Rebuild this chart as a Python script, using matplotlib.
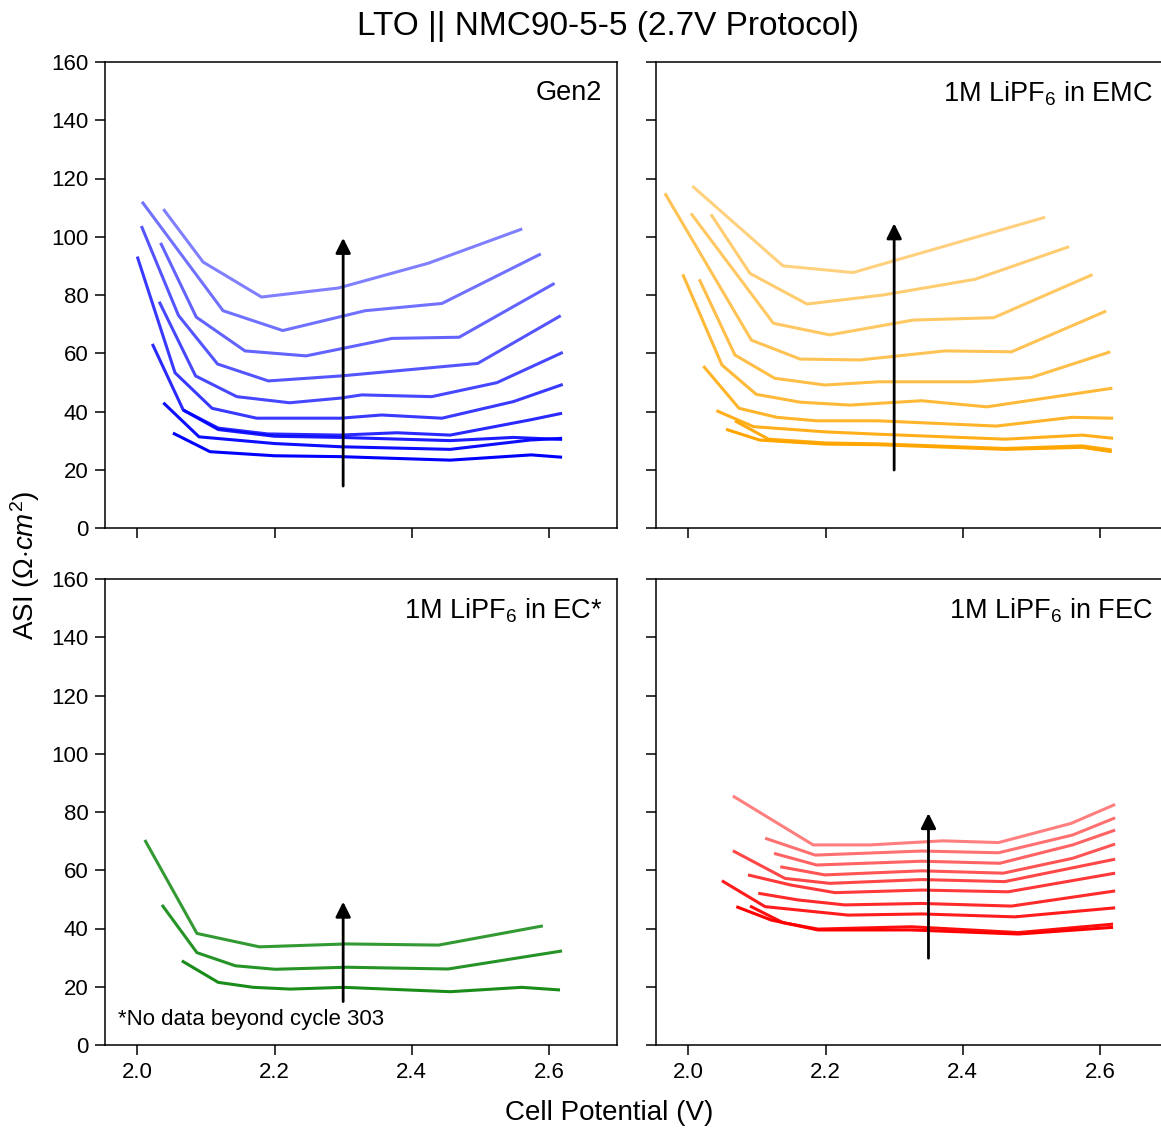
import numpy as np
import matplotlib
matplotlib.use("Agg")
import matplotlib.pyplot as plt

plt.rcParams['font.family'] = ['Liberation Sans', 'DejaVu Sans']
plt.rcParams['mathtext.fontset'] = 'custom'
plt.rcParams['mathtext.rm'] = 'Liberation Sans'
plt.rcParams['mathtext.it'] = 'Liberation Sans:italic'

# --- Data: cell potential (V) and ASI (ohm cm^2), first cycle -> last cycle ---
gen2_v = [
    [2.052, 2.106, 2.200, 2.296, 2.456, 2.574, 2.619],
    [2.038, 2.090, 2.200, 2.296, 2.456, 2.572, 2.619],
    [2.067, 2.118, 2.200, 2.296, 2.456, 2.548, 2.619],
    [2.022, 2.067, 2.118, 2.190, 2.296, 2.378, 2.456, 2.572, 2.619],
    [2.000, 2.055, 2.109, 2.174, 2.296, 2.356, 2.444, 2.548, 2.620],
    [2.032, 2.085, 2.145, 2.222, 2.296, 2.327, 2.429, 2.524, 2.620],
    [2.006, 2.060, 2.117, 2.191, 2.296, 2.496, 2.617],
    [2.034, 2.086, 2.157, 2.246, 2.371, 2.469, 2.608],
    [2.007, 2.125, 2.212, 2.332, 2.444, 2.588],
    [2.038, 2.096, 2.181, 2.293, 2.424, 2.561],
]
gen2_asi = [
    [32.6, 26.2, 24.8, 24.5, 23.3, 25.1, 24.3],
    [43.0, 31.3, 29.0, 27.9, 27.0, 30.2, 30.8],
    [40.5, 33.8, 31.5, 31.1, 30.0, 31.1, 30.4],
    [63.2, 40.5, 34.3, 32.3, 31.9, 32.7, 31.9, 37.1, 39.4],
    [93.2, 53.3, 41.1, 37.7, 37.7, 38.8, 37.7, 43.4, 49.3],
    [77.7, 52.2, 45.1, 43.0, 44.6, 45.7, 45.1, 49.9, 60.3],
    [103.7, 73.0, 56.3, 50.5, 52.2, 56.5, 72.9],
    [97.9, 72.4, 60.8, 59.1, 65.1, 65.5, 84.0],
    [112.0, 74.6, 67.8, 74.6, 77.1, 94.1],
    [109.5, 91.3, 79.3, 82.4, 90.9, 102.7],
]

emc_v = [
    [2.055, 2.104, 2.200, 2.277, 2.462, 2.574, 2.617],
    [2.068, 2.117, 2.200, 2.277, 2.462, 2.574, 2.617],
    [2.041, 2.095, 2.200, 2.277, 2.462, 2.574, 2.619],
    [2.022, 2.074, 2.129, 2.187, 2.277, 2.449, 2.559, 2.619],
    [1.992, 2.049, 2.099, 2.163, 2.236, 2.340, 2.435, 2.618],
    [2.016, 2.068, 2.126, 2.199, 2.277, 2.413, 2.500, 2.615],
    [1.966, 2.092, 2.163, 2.250, 2.374, 2.471, 2.609],
    [2.004, 2.124, 2.206, 2.328, 2.445, 2.589],
    [2.033, 2.090, 2.173, 2.284, 2.418, 2.555],
    [2.006, 2.138, 2.240, 2.520],
]
emc_asi = [
    [33.9, 30.2, 28.8, 28.6, 27.0, 27.7, 26.2],
    [36.8, 30.5, 29.2, 28.9, 27.3, 28.2, 26.8],
    [40.3, 34.8, 33.0, 32.2, 30.5, 31.9, 30.8],
    [55.6, 41.1, 38.0, 36.8, 36.8, 35.0, 38.0, 37.7],
    [87.1, 56.0, 45.9, 43.2, 42.2, 43.7, 41.6, 48.0],
    [85.4, 59.4, 51.4, 49.1, 50.2, 50.2, 51.7, 60.5],
    [114.9, 64.5, 58.0, 57.7, 60.8, 60.5, 74.5],
    [108.0, 70.3, 66.3, 71.4, 72.2, 87.0],
    [107.7, 87.4, 76.9, 80.0, 85.4, 96.6],
    [117.4, 90.0, 87.7, 106.7],
]

ec_v = [
    [2.065, 2.118, 2.169, 2.223, 2.301, 2.456, 2.560, 2.616],
    [2.036, 2.087, 2.143, 2.201, 2.305, 2.453, 2.619],
    [2.011, 2.087, 2.178, 2.305, 2.439, 2.591],
]
ec_asi = [
    [28.9, 21.5, 19.8, 19.2, 19.8, 18.3, 19.8, 18.9],
    [48.1, 31.7, 27.2, 26.0, 26.7, 26.1, 32.3],
    [70.4, 38.3, 33.7, 34.7, 34.3, 40.9],
]

fec_v = [
    [2.070, 2.121, 2.189, 2.325, 2.481, 2.619],
    [2.090, 2.138, 2.189, 2.325, 2.481, 2.619],
    [2.049, 2.112, 2.233, 2.340, 2.476, 2.622],
    [2.102, 2.160, 2.228, 2.340, 2.471, 2.622],
    [2.087, 2.150, 2.214, 2.340, 2.466, 2.622],
    [2.065, 2.141, 2.206, 2.340, 2.461, 2.622],
    [2.134, 2.199, 2.340, 2.459, 2.560, 2.622],
    [2.125, 2.187, 2.340, 2.454, 2.560, 2.622],
    [2.112, 2.185, 2.340, 2.452, 2.560, 2.622],
    [2.065, 2.182, 2.265, 2.371, 2.452, 2.558, 2.622],
]
fec_asi = [
    [47.5, 42.9, 39.5, 39.5, 38.1, 40.4],
    [47.7, 42.0, 39.8, 40.6, 38.6, 41.5],
    [56.4, 47.5, 44.6, 45.0, 44.0, 47.1],
    [52.1, 49.8, 48.1, 48.6, 47.7, 52.9],
    [58.4, 54.9, 52.3, 53.2, 52.6, 59.0],
    [66.7, 57.2, 55.5, 56.8, 56.1, 63.8],
    [61.2, 58.4, 59.8, 59.0, 64.1, 69.0],
    [65.8, 61.8, 63.1, 62.4, 68.7, 73.8],
    [71.0, 65.2, 66.6, 66.0, 72.1, 78.0],
    [85.5, 68.7, 68.7, 70.1, 69.5, 76.1, 82.6],
]

# arrow: x position, start, end
panels = [
    # (v, asi, color, label, arrow)
    (gen2_v, gen2_asi, 'blue', 'Gen2', (2.30, 14.4, 99.6)),
    (emc_v, emc_asi, 'orange', r'1M LiPF$_6$ in EMC', (2.30, 19.9, 104.6)),
    (ec_v, ec_asi, 'green', r'1M LiPF$_6$ in EC*', (2.30, 14.9, 49.2)),
    (fec_v, fec_asi, 'red', r'1M LiPF$_6$ in FEC', (2.35, 29.8, 79.6)),
]

W, H = 1161, 1129
fig = plt.figure(figsize=(W / 100, H / 100), dpi=100)

aw, ah = 512 / W, 466 / H
rects = [
    [105 / W, (H - 528) / H, aw, ah],
    [656 / W, (H - 528) / H, aw, ah],
    [105 / W, (H - 1045) / H, aw, ah],
    [656 / W, (H - 1045) / H, aw, ah],
]

for k, (rect, (vs, asis, col, label, arrow)) in enumerate(zip(rects, panels)):
    ax = fig.add_axes(rect)
    n = len(vs)
    if n > 3:
        alphas = np.linspace(1.0, 0.5, n)
    else:
        alphas = np.linspace(0.9, 0.8, n)
    for v, a, al in zip(vs, asis, alphas):
        ax.plot(v, a, color=col, alpha=al, lw=2.2, solid_capstyle='butt')

    xa, y0, y1 = arrow
    ax.annotate('', xy=(xa, y1), xytext=(xa, y0),
                arrowprops=dict(arrowstyle='-|>,head_length=0.9,head_width=0.45',
                                color='black', lw=2, shrinkA=0, shrinkB=0,
                                mutation_scale=10))

    ax.set_xlim(1.953, 2.699)
    ax.set_ylim(0, 160)
    ax.set_xticks([2.0, 2.2, 2.4, 2.6])
    ax.set_yticks(np.arange(0, 161, 20))
    ax.tick_params(labelsize=16, length=7, width=1.1, pad=5)
    for s in ax.spines.values():
        s.set_linewidth(1.1)
    if k < 2:
        ax.set_xticklabels([])
    if k % 2 == 1:
        ax.set_yticklabels([])

    ax.text(0.971, 0.962, label, transform=ax.transAxes, ha='right', va='top',
            fontsize=19.5)
    if k == 2:
        ax.text(0.025, 0.032, '*No data beyond cycle 303', transform=ax.transAxes,
                ha='left', va='bottom', fontsize=16)

fig.text(608 / W, 1 - 27 / H, 'LTO || NMC90-5-5 (2.7V Protocol)', ha='center',
         va='center', fontsize=24)
fig.text(609 / W, 1 - 1113 / H, 'Cell Potential (V)', ha='center', va='center',
         fontsize=20)
fig.text(25 / W, 1 - 565 / H, r'ASI ($\Omega{\cdot}cm^2$)', ha='center', va='center',
         rotation=90, fontsize=20)

fig.savefig('out.png', dpi=100)
